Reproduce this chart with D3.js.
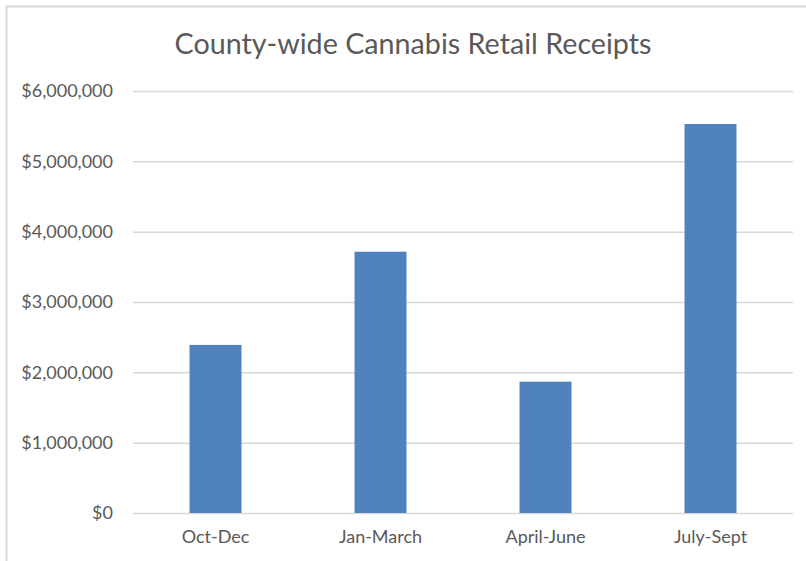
<!DOCTYPE html>
<html>
<head>
<meta charset="utf-8">
<script src="https://cdn.jsdelivr.net/npm/d3@7"></script>
<style>
  body { margin: 0; background: #fff; }
  text { font-family: Lato, "Open Sans", sans-serif; fill: #595959; }
</style>
</head>
<body>
<svg id="chart"></svg>
<script>
const quarters = ['Oct-Dec', 'Jan-March', 'April-June', 'July-Sept'];
const receipts = [2390000, 3715000, 1867000, 5531000];
const yTicks = [0, 1000000, 2000000, 3000000, 4000000, 5000000, 6000000];

const W = 806, H = 561;
const plot = { left: 133, right: 793, top: 91, bottom: 513 };

const svg = d3.select('#chart')
    .attr('width', W)
    .attr('height', H);

// chart frame (only top and left edge show in the crop)
svg.append('path')
    .attr('d', `M6.5,${H} V6.5 H${W}`)
    .attr('fill', 'none')
    .attr('stroke', '#d9d9d9')
    .attr('stroke-width', 2);

svg.append('text')
    .attr('x', 413)
    .attr('y', 54)
    .attr('text-anchor', 'middle')
    .style('font-size', '28.7px')
    .text('County-wide Cannabis Retail Receipts');

const x = d3.scaleBand()
    .domain(quarters)
    .range([plot.left, plot.right])
    .paddingInner(0.685)
    .paddingOuter(0.3425);

const y = d3.scaleLinear()
    .domain([0, 6000000])
    .range([plot.bottom, plot.top]);

const fmt = d3.format('$,');

// gridlines + y labels
const yAxis = d3.axisLeft(y)
    .tickValues(yTicks)
    .tickSize(-(plot.right - plot.left))
    .tickPadding(20)
    .tickFormat(fmt);

const gy = svg.append('g')
    .attr('transform', `translate(${plot.left},0)`)
    .call(yAxis);
gy.select('.domain').remove();
gy.selectAll('.tick line').attr('stroke', '#d9d9d9').attr('stroke-width', 1.5);
gy.selectAll('.tick text').style('font-size', '18px').attr('fill', '#595959');

svg.selectAll('.bar')
    .data(quarters)
    .enter()
    .append('rect')
    .attr('class', 'bar')
    .attr('x', d => x(d))
    .attr('width', x.bandwidth())
    .attr('y', (d, i) => y(receipts[i]))
    .attr('height', (d, i) => y(0) - y(receipts[i]))
    .attr('fill', '#4f81bd');

const xAxis = d3.axisBottom(x)
    .tickSize(0)
    .tickPadding(17);

const gx = svg.append('g')
    .attr('transform', `translate(0,${plot.bottom})`)
    .call(xAxis);
gx.select('.domain').remove();
gx.selectAll('.tick text').style('font-size', '18px').attr('fill', '#595959');
</script>
</body>
</html>
